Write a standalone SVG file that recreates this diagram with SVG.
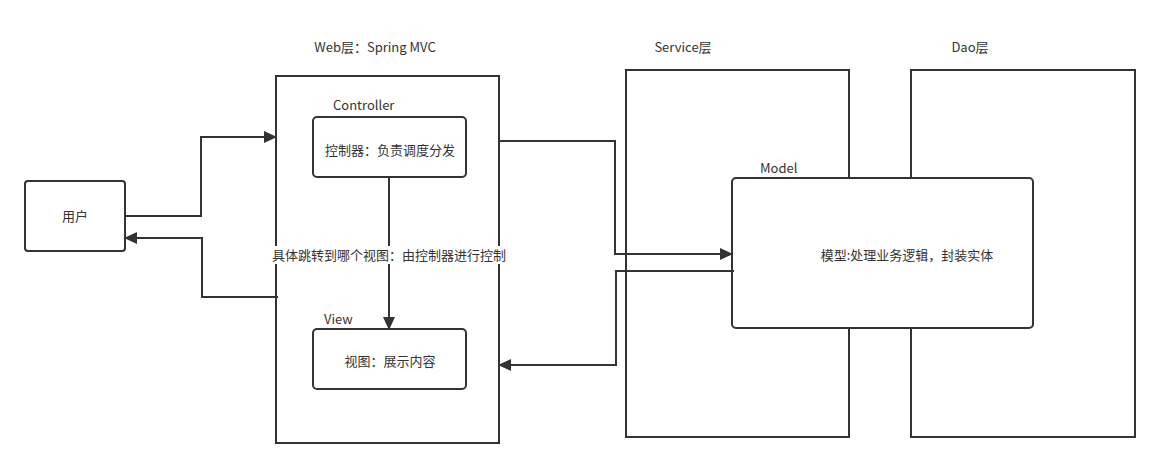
<svg xmlns="http://www.w3.org/2000/svg" width="1159" height="468" viewBox="0 0 1159 468">
<style>
.box{fill:#fff;stroke:#333;stroke-width:2}
.conn{fill:none;stroke:#333;stroke-width:2}
text{font-family:"Noto Sans CJK SC","Noto Sans",sans-serif;font-size:13px;fill:#333}
.c{text-anchor:middle}
</style>
<defs>
<marker id="arr" markerWidth="14" markerHeight="12" refX="12" refY="6" orient="auto" markerUnits="userSpaceOnUse">
<path d="M0,0 L13,6 L0,12 Z" fill="#333"/>
</marker>
</defs>
<rect width="1159" height="468" fill="#fff"/>
<g id="user"><rect class="box" x="25" y="181" width="100" height="70" rx="3"/><text class="c" x="75" y="221">用户</text></g>
<g id="web"><rect class="box" x="276" y="76" width="223" height="367"/><text class="c" x="375" y="52">Web层：Spring MVC</text></g>
<g id="service"><rect class="box" x="626" y="70" width="223" height="367"/><text class="c" x="683" y="52">Service层</text></g>
<g id="dao"><rect class="box" x="911" y="70" width="224" height="367"/><text class="c" x="970" y="52">Dao层</text></g>
<g id="model"><rect class="box" x="732" y="178" width="301" height="150" rx="4"/><text x="760" y="173">Model</text><text class="c" x="907" y="260">模型:处理业务逻辑，封装实体</text></g>
<g id="controller"><rect class="box" x="313" y="117" width="153" height="60" rx="4"/><text x="333" y="110">Controller</text><text class="c" x="390" y="155">控制器：负责调度分发</text></g>
<g id="view"><rect class="box" x="313" y="329" width="153" height="60" rx="4"/><text x="324" y="324">View</text><text class="c" x="390" y="366">视图：展示内容</text></g>
<g id="connectors">
<polyline class="conn" points="125,216 201,216 201,137 276,137" marker-end="url(#arr)"/>
<polyline class="conn" points="278,297 202,297 202,238 125,238" marker-end="url(#arr)"/>
<polyline class="conn" points="389,177 389,329" marker-end="url(#arr)"/>
<polyline class="conn" points="499,141 615,141 615,254 732,254" marker-end="url(#arr)"/>
<polyline class="conn" points="734,271 616,271 616,365 499,365" marker-end="url(#arr)"/>
<rect x="272" y="246" width="236" height="18" fill="#fff"/>
<text class="c" x="389" y="260">具体跳转到哪个视图：由控制器进行控制</text>
</g>
</svg>
